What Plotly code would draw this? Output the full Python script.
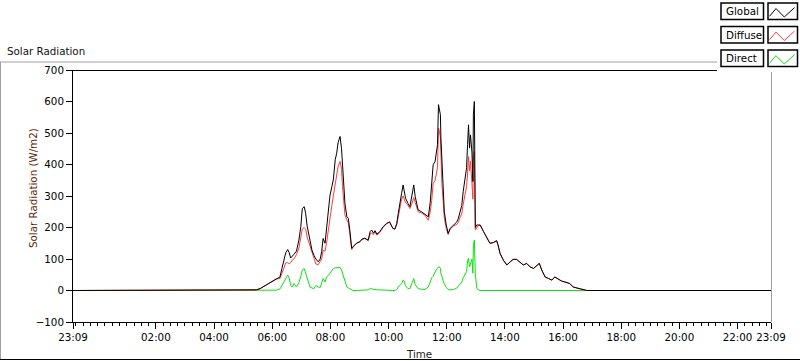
import plotly.graph_objects as go

# ---------------- data ----------------
day_start = "2024-01-01 23:09"
day_end = "2024-01-02 23:09"
day = "2024-01-02 "

times = [
    "05:14", "05:27", "05:35", "05:45", "05:56", "06:08", "06:16", "06:20", "06:24", "06:28",
    "06:32", "06:35", "06:38", "06:41", "06:45", "06:50", "06:55", "06:59", "07:02", "07:06",
    "07:09", "07:12", "07:15", "07:18", "07:22", "07:26", "07:30", "07:35", "07:39", "07:42",
    "07:45", "07:49", "07:52", "07:56", "07:59", "08:03", "08:06", "08:10", "08:13", "08:16",
    "08:20", "08:23", "08:25", "08:27", "08:30", "08:34", "08:37", "08:40", "08:44", "08:47",
    "08:54", "09:01", "09:05", "09:11", "09:18", "09:22", "09:25", "09:29", "09:32", "09:36",
    "09:42", "09:49", "09:56", "10:02", "10:05", "10:09", "10:13", "10:17", "10:20", "10:24",
    "10:27", "10:30", "10:32", "10:35", "10:40", "10:44", "10:48", "10:52", "10:55", "10:58",
    "11:01", "11:08", "11:15", "11:22", "11:26", "11:29", "11:32", "11:36", "11:38", "11:41",
    "11:43", "11:45", "11:47", "11:48", "11:50", "11:53", "11:55", "11:59", "12:03", "12:07",
    "12:14", "12:21", "12:24", "12:28", "12:31", "12:34", "12:38", "12:41", "12:43", "12:45",
    "12:47", "12:49", "12:52", "12:54", "12:55", "12:57", "12:59", "13:02", "13:05", "13:09",
    "13:16", "13:23", "13:29", "13:36", "13:43", "13:46", "13:50", "13:57", "14:04", "14:11",
    "14:17", "14:24", "14:31", "14:38", "14:45", "14:52", "14:59", "15:06", "15:11", "15:16",
    "15:23", "15:30", "15:37", "15:43", "15:50", "15:57", "16:04", "16:14", "16:21", "16:28", "16:39", "16:49",
]

global_rad = [
    0, 2, 6, 15, 27, 38, 43, 70, 95, 120,
    130, 120, 103, 107, 115, 125, 160, 203, 260, 266,
    245, 205, 178, 150, 128, 112, 100, 91, 100, 123,
    165, 150, 192, 245, 300, 330, 351, 415, 436, 470,
    489, 450, 394, 330, 277, 234, 229, 192, 134, 140,
    150, 155, 163, 166, 160, 187, 192, 182, 190, 179,
    187, 203, 213, 218, 208, 197, 195, 213, 245, 288,
    309, 335, 320, 293, 277, 266, 300, 335, 298, 272,
    256, 250, 242, 234, 280, 330, 399, 410, 431, 463,
    590, 575, 558, 484, 400, 314, 250, 208, 181, 197,
    208, 218, 229, 256, 270, 314, 357, 390, 463, 526,
    452, 494, 440, 346, 560, 600, 200, 208, 208, 208,
    187, 166, 150, 152, 158, 145, 118, 96, 81, 91,
    99, 99, 91, 81, 86, 75, 70, 81, 86, 65,
    43, 38, 33, 43, 36, 30, 27, 22, 11, 8, 4, 0,
]

diffuse_rad = [
    0, 2, 6, 15, 27, 37, 38, 55, 75, 88,
    88, 85, 88, 96, 100, 114, 135, 165, 195, 200,
    194, 170, 155, 140, 120, 106, 84, 82, 92, 100,
    128, 125, 150, 195, 240, 270, 300, 340, 355, 395,
    410, 385, 330, 290, 240, 224, 215, 181, 130, 138,
    150, 155, 162, 165, 158, 180, 182, 178, 186, 176,
    185, 201, 212, 217, 207, 197, 195, 210, 234, 272,
    290, 300, 290, 278, 271, 260, 275, 295, 280, 262,
    250, 246, 239, 223, 250, 285, 340, 350, 365, 390,
    515, 505, 485, 430, 340, 275, 230, 198, 178, 195,
    205, 210, 216, 234, 243, 274, 305, 330, 370, 425,
    380, 410, 340, 290, 420, 441, 192, 200, 206, 207,
    187, 166, 150, 152, 158, 142, 118, 96, 81, 91,
    98, 99, 90, 81, 86, 75, 70, 81, 86, 65,
    43, 38, 33, 43, 36, 30, 27, 22, 11, 8, 4, 0,
]

direct_rad = [
    0, 0, 0, 0, 0, 1, 5, 17, 27, 40,
    49, 40, 17, 11, 22, 11, 25, 45, 65, 70,
    54, 40, 25, 11, 8, 6, 16, 11, 10, 27,
    38, 27, 43, 48, 54, 62, 70, 72, 73, 73,
    73, 65, 55, 40, 33, 11, 8, 6, 2, 0,
    0, 0, 1, 1, 2, 6, 5, 3, 3, 2,
    2, 1, 1, 1, 0, 0, 0, 3, 11, 16,
    22, 33, 30, 15, 6, 6, 25, 38, 18, 10,
    6, 4, 3, 11, 30, 40, 45, 59, 65, 70,
    75, 75, 70, 55, 45, 33, 20, 10, 3, 2,
    3, 8, 13, 22, 27, 40, 52, 60, 95, 102,
    75, 85, 100, 55, 145, 160, 50, 8, 2, 0,
    0, 0, 0, 0, 0, 2, 0, 0, 0, 0,
    0, 0, 1, 0, 0, 0, 0, 0, 0, 0,
    0, 0, 0, 0, 0, 0, 0, 0, 0, 0, 0, 0,
]

x_tick_labels = ["23:09", "02:00", "04:00", "06:00", "08:00", "10:00", "12:00",
                 "14:00", "16:00", "18:00", "20:00", "22:00", "23:09"]
x_tick_vals = [day_start] + [day + t for t in x_tick_labels[1:-1]] + [day_end]
y_ticks = [-100, 0, 100, 200, 300, 400, 500, 600, 700]

series_names = ["Global", "Diffuse", "Direct"]
series_colors = ["#000000", "#ff3c3c", "#10e010"]

# ---------------- figure ----------------
W, H = 800, 361
L, R, T, B = 73, 771, 70, 322
FONT = "DejaVu Sans"
FS = 10.3


def px(x):
    return (x - L) / (R - L)


def py(y):
    return (B - y) / (B - T)


xs = [day_start] + [day + t for t in times] + [day_end]

fig = go.Figure()
series = {"Global": global_rad, "Diffuse": diffuse_rad, "Direct": direct_rad}
for name in ["Direct", "Diffuse", "Global"]:
    vals = series[name]
    color = series_colors[series_names.index(name)]
    fig.add_trace(go.Scatter(
        x=xs, y=[0] + list(vals) + [0], mode="lines", name=name,
        line=dict(color=color, width=1), showlegend=False, hoverinfo="skip",
    ))

shapes = []
# outer panel frame
shapes.append(dict(type="line", xref="paper", yref="paper", x0=px(0), x1=px(717), y0=py(62), y1=py(62),
                   line=dict(color="#a0a0a0", width=1)))
shapes.append(dict(type="line", xref="paper", yref="paper", x0=px(0.5), x1=px(0.5), y0=py(62), y1=py(360),
                   line=dict(color="#a0a0a0", width=1)))
shapes.append(dict(type="line", xref="paper", yref="paper", x0=px(0), x1=px(800), y0=py(359.5), y1=py(359.5),
                   line=dict(color="#000000", width=1)))
# plot area top and right borders
shapes.append(dict(type="line", xref="paper", yref="paper", x0=px(L), x1=px(717), y0=py(70.5), y1=py(70.5),
                   line=dict(color="#000000", width=1)))
shapes.append(dict(type="line", xref="paper", yref="paper", x0=px(771.5), x1=px(771.5), y0=py(72), y1=py(B),
                   line=dict(color="#a0a0a0", width=1)))
# legend background
shapes.append(dict(type="rect", xref="paper", yref="paper", x0=px(717), x1=px(800), y0=py(0), y1=py(72),
                   fillcolor="white", line=dict(width=0)))

annotations = []
row_tops = [3, 26.5, 50]
bh = 16.5
for name, color, top in zip(series_names, series_colors, row_tops):
    shapes.append(dict(type="rect", xref="paper", yref="paper", x0=px(721), x1=px(763.5),
                       y0=py(top), y1=py(top + bh), line=dict(color="#000000", width=1.5)))
    shapes.append(dict(type="rect", xref="paper", yref="paper", x0=px(768), x1=px(797.5),
                       y0=py(top), y1=py(top + bh), line=dict(color="#000000", width=1.5)))
    pts = [(769.5, 13.3), (776, 5.6), (784.3, 14), (794.5, 4.6)]
    path = "M " + " L ".join(f"{px(a):.5f},{py(top + b):.5f}" for a, b in pts)
    shapes.append(dict(type="path", xref="paper", yref="paper", path=path,
                       line=dict(color=color, width=1)))
    annotations.append(dict(text=name, xref="paper", yref="paper", x=px(723.5), y=py(top + bh / 2),
                            xanchor="left", yanchor="middle", showarrow=False,
                            font=dict(family=FONT, size=FS, color="#000000")))

annotations.append(dict(text="Solar Radiation", xref="paper", yref="paper", x=px(5), y=py(51),
                        xanchor="left", yanchor="middle", showarrow=False,
                        font=dict(family=FONT, size=FS, color="#101010")))
annotations.append(dict(text="Solar Radiation (W/m2)", xref="paper", yref="paper", x=px(33), y=py(188),
                        xanchor="center", yanchor="middle", textangle=-90, showarrow=False,
                        font=dict(family=FONT, size=FS, color="#5e2a0a")))
annotations.append(dict(text="Time", xref="paper", yref="paper", x=px(419), y=py(354),
                        xanchor="center", yanchor="middle", showarrow=False,
                        font=dict(family=FONT, size=FS, color="#1a1a1a")))

fig.update_layout(
    width=W, height=H,
    margin=dict(l=L, r=W - R, t=T, b=H - B, autoexpand=False),
    paper_bgcolor="white", plot_bgcolor="white",
    font=dict(family=FONT, size=FS, color="#000000"),
    shapes=shapes, annotations=annotations,
    xaxis=dict(
        type="date", range=[day_start, day_end],
        tickmode="array", tickvals=x_tick_vals, ticktext=x_tick_labels,
        ticks="outside", ticklen=6, tickcolor="#000000", tickwidth=1,
        showline=True, linecolor="#000000", linewidth=1,
        showgrid=False, zeroline=False,
        minor=dict(ticks="outside", ticklen=3, tickcolor="#000000", tickwidth=1,
                   dtick=900000, tick0="2024-01-02 00:00", showgrid=False),
        tickfont=dict(family=FONT, size=FS, color="#000000"),
    ),
    yaxis=dict(
        range=[-100, 700], tickmode="array", tickvals=y_ticks,
        ticks="outside", ticklen=6, tickcolor="#000000", tickwidth=1,
        showline=True, linecolor="#000000", linewidth=1,
        showgrid=False, zeroline=False,
        tickfont=dict(family=FONT, size=FS, color="#000000"),
    ),
)

fig.write_html(
    "out.html",
    config={"displayModeBar": False, "staticPlot": True},
    post_script="document.body.style.margin='0';document.body.style.padding='0';document.body.style.overflow='hidden';",
)
